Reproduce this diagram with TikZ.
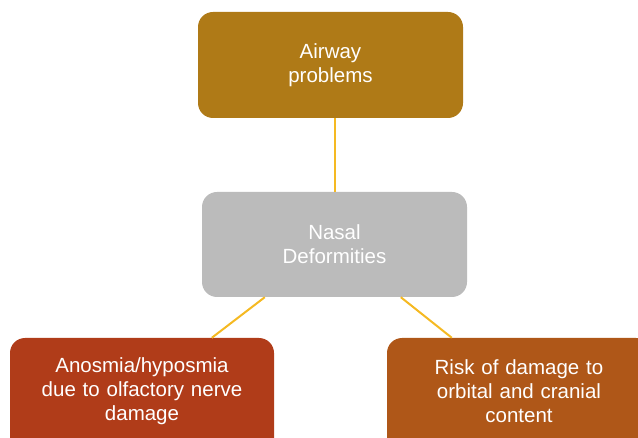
\documentclass[tikz,border=0pt]{standalone}
\usepackage{fontspec}
\setmainfont{Liberation Sans}
\definecolor{cTop}{HTML}{AF7A17}
\definecolor{cMid}{HTML}{BBBBBB}
\definecolor{cLeft}{HTML}{B03C19}
\definecolor{cRight}{HTML}{AF5718}
\definecolor{cLine}{HTML}{F5B922}
\tikzset{
  box/.style={rounded corners=15pt, minimum width=265pt, text width=240pt, align=center,
    text=white, font=\fontsize{20.5}{24}\selectfont, inner sep=0pt},
  lbl/.style={text width=250pt, align=center, text=white, font=\fontsize{20.5}{24}\selectfont, inner sep=0pt},
  link/.style={draw=cLine, line width=2pt}
}
\begin{document}
\begin{tikzpicture}[x=1pt,y=-1pt]
\useasboundingbox (0,0) rectangle (638,438);
\clip (0,0) rectangle (638,438);
\node[box, fill=cTop, minimum height=106pt] (top) at (330.5,65) {Airway\\problems};
\node[box, fill=cMid, minimum height=105pt] (mid) at (334.5,244.5) {Nasal\\Deformities};
\node[box, fill=cLeft, minimum width=264pt, minimum height=116pt] (left) at (142,396) {};
\node[lbl] (leftText) at (142,391.5) {Anosmia/hyposmia\\due to olfactory nerve\\damage};
\node[box, fill=cRight, minimum width=264pt, minimum height=116pt] (right) at (519,396) {};
\node[lbl] (rightText) at (519,391.5) {Risk of damage to\\orbital and cranial\\content};
\draw[link] (mid.north |- top.south) -- (mid.north);
\draw[link] ([xshift=63pt]mid.south west) -- ([xshift=202pt]left.north west);
\draw[link] ([xshift=199pt]mid.south west) -- ([xshift=65pt]right.north west);
\end{tikzpicture}
\end{document}
